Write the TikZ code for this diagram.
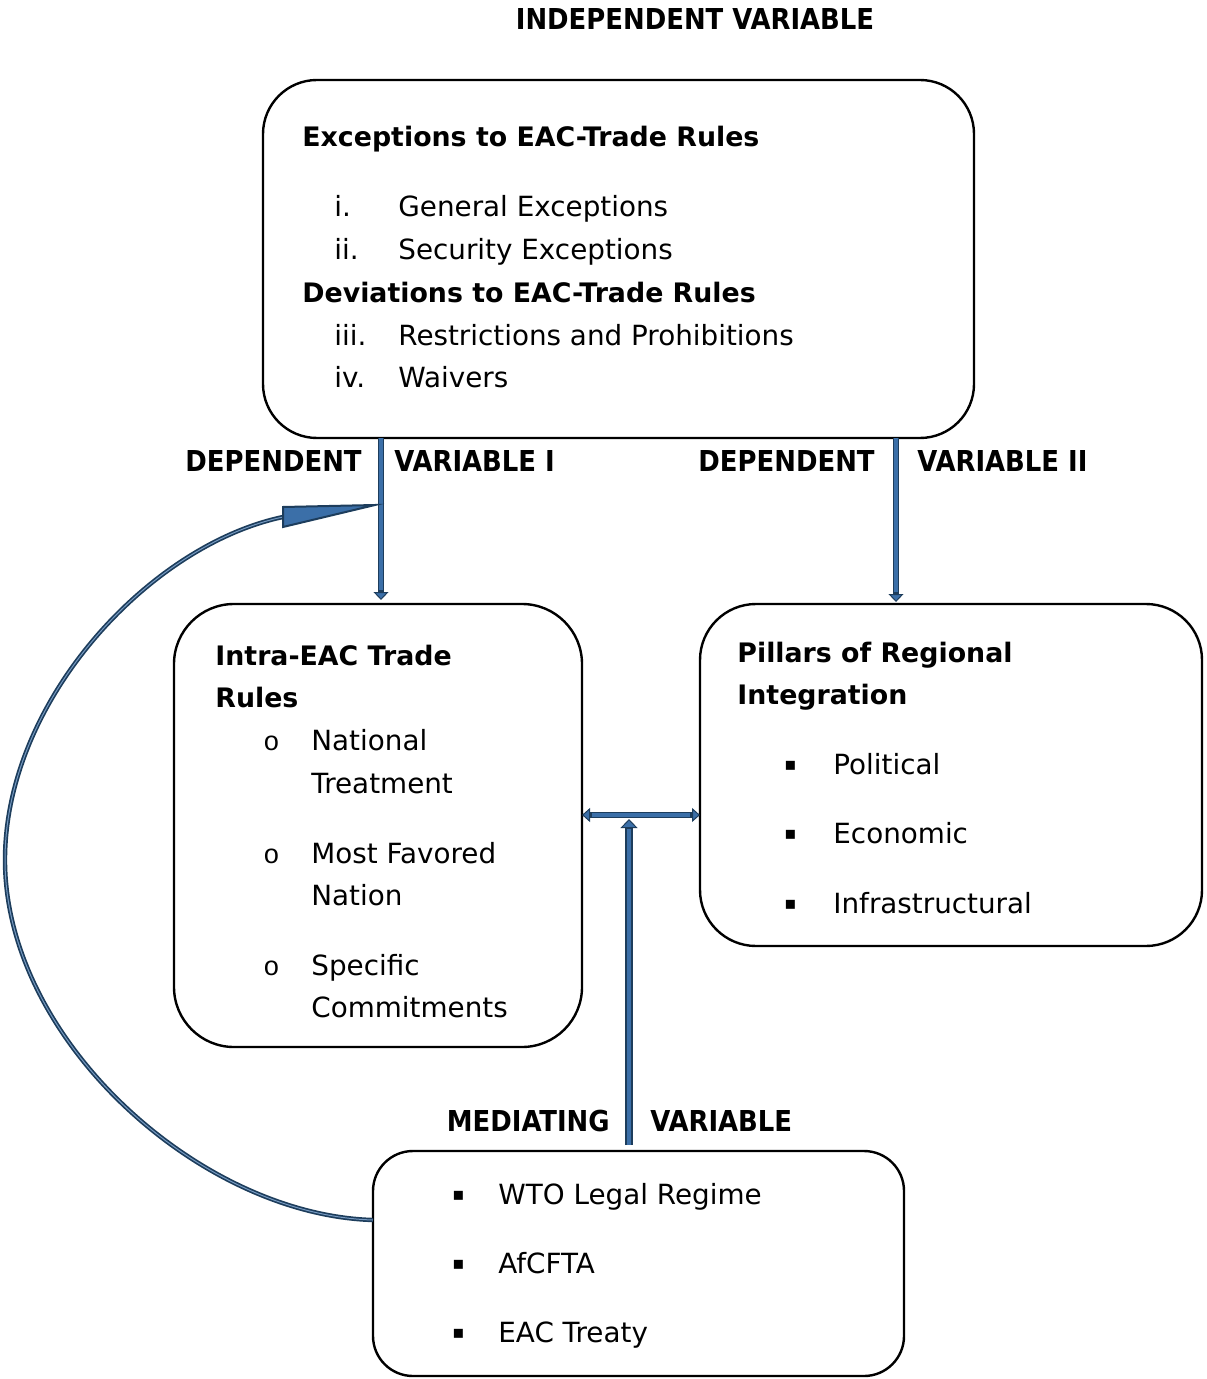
\documentclass[tikz,border=0pt]{standalone}
\usepackage{fontspec}
\setmainfont{DejaVu Sans}[BoldFont={DejaVu Sans Bold}]
\newfontfamily\lblfont{DejaVu Sans Condensed Bold}
\newfontfamily\bulletfont{Liberation Mono}
\usetikzlibrary{arrows.meta,calc}
\definecolor{arrdark}{HTML}{1D3D5C}
\definecolor{arrblue}{HTML}{3B6FA8}
\begin{document}
\begin{tikzpicture}[x=0.5pt,y=-0.5pt,
  box/.style={draw=black, line width=1.2pt, rounded corners=#1, inner sep=0pt, outer sep=0pt},
  txt/.style={anchor=base west, inner sep=0pt, font=\fontsize{13.9}{16}\selectfont},
  btxt/.style={anchor=base west, inner sep=0pt, font=\fontsize{13.4}{16}\selectfont\bfseries},
  obul/.style={anchor=base west, inner sep=0pt, font=\fontsize{13.5}{16}\selectfont\bulletfont},
  sbul/.style={anchor=base west, inner sep=0pt, font=\fontsize{9}{10}\selectfont},
  lbl/.style={inner sep=0pt, font=\fontsize{14.4}{18}\selectfont\lblfont},
  shaftout/.style={draw=arrdark, line width=3pt},
  shaftin/.style={draw=arrblue, line width=1.6pt},
  tipV/.style={-{Triangle[width=7.5pt,length=4pt,line width=0.5pt,fill=arrblue]}},
  tipH/.style={{Triangle[width=7pt,length=4pt,line width=0.5pt,fill=arrblue]}-{Triangle[width=7pt,length=4pt,line width=0.5pt,fill=arrblue]}},
]
\useasboundingbox (0,0) rectangle (1206,1379);

% boxes
\node[box=27pt, minimum width=355.5pt, minimum height=179pt] (top) at (618.5,259) {};
\node[box=30pt, minimum width=204pt, minimum height=221.5pt] (left) at (378,825.5) {};
\node[box=28pt, minimum width=251pt, minimum height=171pt] (right) at (951,775) {};
\node[box=20pt, minimum width=265.5pt, minimum height=112.5pt] (bot) at (638.5,1263.5) {};

% labels
\node[lbl, anchor=base] (indep) at (695,30) {INDEPENDENT VARIABLE};
\node[lbl, anchor=base east] (dep1a) at (362,471) {DEPENDENT};
\node[lbl, anchor=base west] (dep1b) at (394,471) {VARIABLE I};
\node[lbl, anchor=base east] (dep2a) at (875,471) {DEPENDENT};
\node[lbl, anchor=base west] (dep2b) at (917,471) {VARIABLE II};
\node[lbl, anchor=base east] (meda) at (610,1131) {MEDIATING};
\node[lbl, anchor=base west] (medb) at (650,1131) {VARIABLE};

% top box text
\node[btxt] (t0) at (302,147) {Exceptions to EAC-Trade Rules};
\node[txt] (n1) at (334,217) {i.};
\node[txt] (t1) at (398,217) {General Exceptions};
\node[txt] (n2) at (334,260) {ii.};
\node[txt] (t2) at (398,260) {Security Exceptions};
\node[btxt] (t3) at (302,303) {Deviations to EAC-Trade Rules};
\node[txt] (n3) at (334,346) {iii.};
\node[txt] (t4) at (398,346) {Restrictions and Prohibitions};
\node[txt] (n4) at (334,388) {iv.};
\node[txt] (t5) at (398,388) {Waivers};

% left box text
\node[btxt] (l0) at (215,665) {Intra-EAC Trade};
\node[btxt] (l1) at (215,707) {Rules};
\node[obul] (lb1) at (263,750) {o};
\node[txt] (l2) at (311,750) {National};
\node[txt] (l3) at (311,793) {Treatment};
\node[obul] (lb2) at (263,863) {o};
\node[txt] (l4) at (311,863) {Most Favored};
\node[txt] (l5) at (311,905) {Nation};
\node[obul] (lb3) at (263,975) {o};
\node[txt] (l6) at (311,975) {Specific};
\node[txt] (l7) at (311,1017) {Commitments};

% right box text
\node[btxt] (r0) at (737,662) {Pillars of Regional};
\node[btxt] (r1) at (737,704) {Integration};
\node[sbul] (rb1) at (784,770) {▪};
\node[txt] (r2) at (833,774) {Political};
\node[sbul] (rb2) at (784,839) {▪};
\node[txt] (r3) at (833,843) {Economic};
\node[sbul] (rb3) at (784,909) {▪};
\node[txt] (r4) at (833,913) {Infrastructural};

% bottom box text
\node[sbul] (bb1) at (452,1200) {▪};
\node[txt] (b1) at (498,1204) {WTO Legal Regime};
\node[sbul] (bb2) at (452,1269) {▪};
\node[txt] (b2) at (498,1273) {AfCFTA};
\node[sbul] (bb3) at (452,1338) {▪};
\node[txt] (b3) at (498,1342) {EAC Treaty};

% helper coordinates
\coordinate (a1) at (381,0);
\coordinate (a2) at (896,0);
\coordinate (a3) at (629,0);
\coordinate (hy) at (0,815);
\coordinate (ms) at (629,1145);
\coordinate (cs) at (373,1220);
\coordinate (hb) at (283,517);
\coordinate (ht1) at (283,507);
\coordinate (ht2) at (283,527);
\coordinate (htip) at (375,505);

% dependent arrow I
\draw[shaftout, tipV] (top.south -| a1) -- ($(left.north -| a1)+(0,-4)$);
\draw[shaftin] (top.south -| a1) -- ($(left.north -| a1)+(0,-14)$);
% dependent arrow II
\draw[shaftout, tipV] (top.south -| a2) -- ($(right.north -| a2)+(0,-2)$);
\draw[shaftin] (top.south -| a2) -- ($(right.north -| a2)+(0,-12)$);

% horizontal double arrow
\draw[shaftout, tipH] (left.east |- hy) -- (right.west |- hy);
\draw[shaftin] ($(left.east |- hy)+(10,0)$) -- ($(right.west |- hy)+(-10,0)$);

% mediating arrow
\draw[draw=arrdark, line width=4pt, -{Triangle[width=8.5pt,length=4.5pt,line width=0.5pt,fill=arrblue]}] (ms) -- ($(a3 |- hy)+(0,4)$);
\draw[draw=arrblue, line width=2.4pt] (ms) -- ($(a3 |- hy)+(0,14)$);

% curved feedback arrow
\draw[draw=arrdark, line width=2.2pt] (cs) .. controls (200,1215) and (5,1040) .. (5,860)
  .. controls (5,700) and (150,545) .. (hb);
\draw[draw=arrblue!70!white, line width=0.5pt] (cs) .. controls (200,1215) and (5,1040) .. (5,860)
  .. controls (5,700) and (150,545) .. (hb);
\filldraw[fill=arrblue, draw=arrdark, line width=1pt, line join=miter] (ht1) -- (htip) -- (ht2) -- cycle;
\end{tikzpicture}
\end{document}
